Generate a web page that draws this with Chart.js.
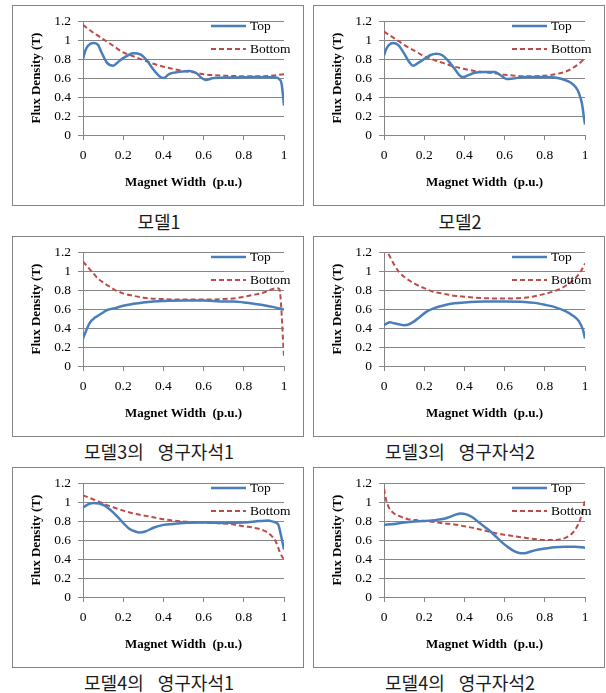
<!DOCTYPE html>
<html>
<head>
<meta charset="utf-8">
<script src="https://cdn.jsdelivr.net/npm/chart.js@4.4.1/dist/chart.umd.min.js"></script>
<style>
  body { margin: 0; background: #fff; width: 606px; height: 693px; position: relative; overflow: hidden; }
  .box { position: absolute; width: 290px; height: 199px; border: 1px solid #858585; }
  .box canvas { display: block; }
  .cap { position: absolute; width: 292px; height: 22px; line-height: 22px; text-align: center;
         font-family: "Noto Sans CJK KR", sans-serif; font-size: 18px; color: #1a1a1a; word-spacing: 10px; }
</style>
</head>
<body>
<script>
// ---- Data ----
const seriesNames = ['Top', 'Bottom'];
const captions = ['모델1', '모델2', '모델3의 영구자석1', '모델3의 영구자석2', '모델4의 영구자석1', '모델4의 영구자석2'];
const xTickValues = [0, 0.2, 0.4, 0.6, 0.8, 1];
const yTickValues = [0, 0.2, 0.4, 0.6, 0.8, 1, 1.2];

// 모델1
const m1TopX = [0, 0.01, 0.025, 0.05, 0.075, 0.09, 0.12, 0.15, 0.175, 0.2, 0.225, 0.25, 0.285, 0.32, 0.35, 0.38, 0.4, 0.43, 0.48, 0.53, 0.565, 0.59, 0.61, 0.65, 0.75, 0.85, 0.96, 0.975, 0.988, 1];
const m1TopY = [0.80, 0.88, 0.94, 0.97, 0.95, 0.88, 0.76, 0.73, 0.77, 0.81, 0.84, 0.86, 0.85, 0.78, 0.69, 0.62, 0.60, 0.645, 0.665, 0.675, 0.65, 0.60, 0.58, 0.60, 0.605, 0.61, 0.605, 0.59, 0.54, 0.31];
const m1BotX = [0, 0.05, 0.1, 0.15, 0.2, 0.25, 0.3, 0.35, 0.4, 0.45, 0.5, 0.55, 0.6, 0.7, 0.8, 0.9, 1];
const m1BotY = [1.16, 1.08, 1.01, 0.94, 0.87, 0.83, 0.79, 0.75, 0.72, 0.695, 0.675, 0.66, 0.64, 0.625, 0.62, 0.62, 0.64];

// 모델2
const m2TopX = [0, 0.01, 0.025, 0.045, 0.07, 0.1, 0.125, 0.145, 0.17, 0.2, 0.23, 0.26, 0.29, 0.32, 0.35, 0.375, 0.395, 0.42, 0.45, 0.5, 0.55, 0.58, 0.61, 0.64, 0.7, 0.8, 0.85, 0.9, 0.93, 0.955, 0.97, 0.985, 0.995, 1];
const m2TopY = [0.84, 0.90, 0.95, 0.97, 0.95, 0.86, 0.77, 0.73, 0.76, 0.80, 0.84, 0.855, 0.84, 0.78, 0.70, 0.63, 0.61, 0.63, 0.655, 0.665, 0.665, 0.63, 0.59, 0.595, 0.61, 0.61, 0.605, 0.58, 0.55, 0.50, 0.44, 0.33, 0.18, 0.11];
const m2BotX = [0, 0.05, 0.1, 0.15, 0.2, 0.25, 0.3, 0.35, 0.4, 0.45, 0.5, 0.55, 0.6, 0.65, 0.7, 0.75, 0.8, 0.85, 0.9, 0.95, 0.98, 1];
const m2BotY = [1.09, 1.02, 0.95, 0.89, 0.83, 0.79, 0.755, 0.72, 0.695, 0.675, 0.66, 0.65, 0.635, 0.625, 0.62, 0.62, 0.625, 0.64, 0.665, 0.72, 0.77, 0.81];

// 모델3의 영구자석1
const m3aTopX = [0, 0.015, 0.035, 0.06, 0.09, 0.12, 0.16, 0.2, 0.25, 0.3, 0.35, 0.4, 0.5, 0.6, 0.65, 0.7, 0.75, 0.8, 0.85, 0.9, 0.95, 1];
const m3aTopY = [0.29, 0.37, 0.46, 0.51, 0.55, 0.59, 0.61, 0.635, 0.655, 0.67, 0.68, 0.685, 0.69, 0.69, 0.685, 0.68, 0.68, 0.67, 0.655, 0.64, 0.62, 0.595];
const m3aBotX = [0, 0.025, 0.05, 0.075, 0.1, 0.13, 0.16, 0.2, 0.25, 0.3, 0.4, 0.5, 0.6, 0.7, 0.76, 0.8, 0.85, 0.9, 0.94, 0.965, 0.977, 1];
const m3aBotY = [1.10, 1.04, 0.98, 0.92, 0.88, 0.84, 0.80, 0.765, 0.74, 0.72, 0.705, 0.70, 0.70, 0.705, 0.715, 0.73, 0.75, 0.775, 0.81, 0.82, 0.81, 0.10];

// 모델3의 영구자석2
const m3bTopX = [0, 0.015, 0.03, 0.05, 0.075, 0.1, 0.125, 0.15, 0.18, 0.21, 0.25, 0.3, 0.35, 0.4, 0.5, 0.6, 0.7, 0.75, 0.8, 0.85, 0.9, 0.94, 0.97, 0.99, 1];
const m3bTopY = [0.43, 0.45, 0.46, 0.45, 0.44, 0.43, 0.44, 0.47, 0.52, 0.57, 0.61, 0.64, 0.66, 0.67, 0.68, 0.68, 0.675, 0.665, 0.645, 0.62, 0.58, 0.53, 0.47, 0.38, 0.29];
const m3bBotX = [0, 0.025, 0.05, 0.075, 0.1, 0.15, 0.2, 0.25, 0.3, 0.35, 0.4, 0.5, 0.6, 0.7, 0.75, 0.8, 0.85, 0.9, 0.95, 0.98, 1];
const m3bBotY = [1.25, 1.17, 1.07, 0.99, 0.94, 0.87, 0.82, 0.78, 0.76, 0.74, 0.73, 0.715, 0.71, 0.72, 0.735, 0.76, 0.79, 0.84, 0.92, 1.0, 1.08];

// 모델4의 영구자석1
const m4aTopX = [0, 0.02, 0.05, 0.08, 0.11, 0.14, 0.17, 0.2, 0.23, 0.26, 0.28, 0.31, 0.35, 0.4, 0.45, 0.5, 0.6, 0.7, 0.8, 0.88, 0.92, 0.95, 0.97, 0.985, 1];
const m4aTopY = [0.94, 0.97, 0.99, 0.985, 0.96, 0.91, 0.85, 0.78, 0.72, 0.69, 0.68, 0.69, 0.73, 0.76, 0.77, 0.78, 0.785, 0.78, 0.785, 0.80, 0.805, 0.79, 0.77, 0.65, 0.50];
const m4aBotX = [0, 0.05, 0.1, 0.15, 0.2, 0.25, 0.3, 0.35, 0.4, 0.45, 0.5, 0.6, 0.7, 0.75, 0.8, 0.85, 0.9, 0.93, 0.96, 0.98, 1];
const m4aBotY = [1.07, 1.03, 0.985, 0.945, 0.91, 0.88, 0.86, 0.84, 0.82, 0.805, 0.795, 0.785, 0.775, 0.765, 0.745, 0.73, 0.70, 0.66, 0.58, 0.47, 0.39];

// 모델4의 영구자석2
const m4bTopX = [0, 0.05, 0.1, 0.15, 0.2, 0.25, 0.3, 0.33, 0.36, 0.38, 0.41, 0.44, 0.47, 0.5, 0.53, 0.56, 0.59, 0.62, 0.65, 0.68, 0.7, 0.73, 0.77, 0.8, 0.85, 0.9, 0.95, 1];
const m4bTopY = [0.76, 0.77, 0.785, 0.795, 0.80, 0.81, 0.825, 0.845, 0.87, 0.88, 0.87, 0.84, 0.79, 0.74, 0.69, 0.63, 0.57, 0.52, 0.48, 0.46, 0.46, 0.48, 0.50, 0.51, 0.525, 0.53, 0.53, 0.52];
const m4bBotX = [0, 0.01, 0.025, 0.05, 0.08, 0.12, 0.16, 0.2, 0.25, 0.3, 0.35, 0.4, 0.45, 0.5, 0.55, 0.6, 0.65, 0.7, 0.75, 0.8, 0.85, 0.88, 0.91, 0.94, 0.96, 0.98, 1];
const m4bBotY = [1.14, 1.03, 0.94, 0.88, 0.85, 0.82, 0.81, 0.80, 0.79, 0.775, 0.765, 0.745, 0.725, 0.70, 0.675, 0.655, 0.64, 0.625, 0.61, 0.60, 0.60, 0.61, 0.63, 0.68, 0.74, 0.84, 1.02];

const panels = [
  [m1TopX, m1TopY, m1BotX, m1BotY],
  [m2TopX, m2TopY, m2BotX, m2BotY],
  [m3aTopX, m3aTopY, m3aBotX, m3aBotY],
  [m3bTopX, m3bTopY, m3bBotX, m3bBotY],
  [m4aTopX, m4aTopY, m4aBotX, m4aBotY],
  [m4bTopX, m4bTopY, m4bBotX, m4bBotY]
];

// ---- Layout ----
const BOX_LEFT = [12, 313];
const BOX_TOP = [5, 236, 467];
const CAP_CENTER = [221, 451, 682];
const SERIF = "'Liberation Serif', 'Times New Roman', serif";
const GRID = '#868686';

function zip(xs, ys) {
  return xs.map((x, i) => ({ x, y: ys[i] }));
}

// Excel style labels: 0, 0.2, ... 1, 1.2
const fmtTick = v => String(Math.round(v * 10) / 10);

// legend drawn inside the plot, top right, like the Excel original
const cornerLegend = {
  id: 'cornerLegend',
  afterDraw(chart) {
    const { ctx, chartArea } = chart;
    ctx.save();
    ctx.font = `13.5px ${SERIF}`;
    ctx.textBaseline = 'middle';
    ctx.fillStyle = '#000';
    chart.data.datasets.forEach((ds, i) => {
      const y = chartArea.top + 5 + i * 23;
      const x0 = chartArea.right - 73;
      ctx.strokeStyle = ds.borderColor;
      ctx.lineWidth = ds.borderWidth;
      ctx.setLineDash(ds.borderDash || []);
      ctx.beginPath();
      ctx.moveTo(x0, y);
      ctx.lineTo(x0 + 35, y);
      ctx.stroke();
      ctx.setLineDash([]);
      ctx.fillText(ds.label, x0 + 39, y);
    });
    ctx.restore();
  }
};

function makePanel(idx) {
  const col = idx % 2, row = Math.floor(idx / 2);
  const box = document.createElement('div');
  box.className = 'box';
  box.style.left = BOX_LEFT[col] + 'px';
  box.style.top = BOX_TOP[row] + 'px';
  const canvas = document.createElement('canvas');
  canvas.width = 290;
  canvas.height = 199;
  box.appendChild(canvas);
  document.body.appendChild(box);

  const cap = document.createElement('div');
  cap.className = 'cap';
  cap.style.left = (BOX_LEFT[col] + 1) + 'px';
  cap.style.top = (CAP_CENTER[row] - 11) + 'px';
  cap.textContent = captions[idx];
  document.body.appendChild(cap);

  const [tx, ty, bx, by] = panels[idx];
  new Chart(canvas.getContext('2d'), {
    type: 'line',
    data: {
      datasets: [
        { label: seriesNames[0], data: zip(tx, ty), borderColor: '#4A7EBB', borderWidth: 2.5 },
        { label: seriesNames[1], data: zip(bx, by), borderColor: '#BE4B48', borderWidth: 2, borderDash: [5, 3] }
      ]
    },
    options: {
      responsive: false,
      animation: false,
      events: [],
      layout: { padding: { left: 0, right: 19, top: 13, bottom: 0 } },
      elements: {
        point: { radius: 0 },
        line: { cubicInterpolationMode: 'monotone', fill: false }
      },
      plugins: { legend: { display: false }, tooltip: { enabled: false } },
      scales: {
        x: {
          type: 'linear', min: 0, max: 1,
          afterBuildTicks: s => { s.ticks = xTickValues.map(v => ({ value: v })); },
          afterFit: s => { s.height = 70; },
          grid: { drawOnChartArea: false, color: GRID, tickLength: 5 },
          border: { color: GRID },
          ticks: { padding: 7, color: '#000', font: { family: SERIF, size: 13.5 }, maxRotation: 0,
                   autoSkip: false, callback: fmtTick },
          title: { display: true, text: 'Magnet Width  (p.u.)', color: '#000', padding: { top: 0, bottom: 15 },
                   font: { family: SERIF, size: 13, weight: 'bold' } }
        },
        y: {
          type: 'linear', min: 0, max: 1.2,
          afterBuildTicks: s => { s.ticks = yTickValues.map(v => ({ value: v })); },
          afterFit: s => { s.width = 70; },
          grid: { color: GRID, tickLength: 5 },
          border: { color: GRID },
          ticks: { padding: 7, color: '#000', font: { family: SERIF, size: 13.5 }, autoSkip: false, callback: fmtTick },
          title: { display: true, text: 'Flux Density (T)', color: '#000', padding: { top: 16, bottom: 0 },
                   font: { family: SERIF, size: 13, weight: 'bold' } }
        }
      }
    },
    plugins: [cornerLegend]
  });
}

for (let i = 0; i < 6; i++) makePanel(i);
</script>
</body>
</html>
